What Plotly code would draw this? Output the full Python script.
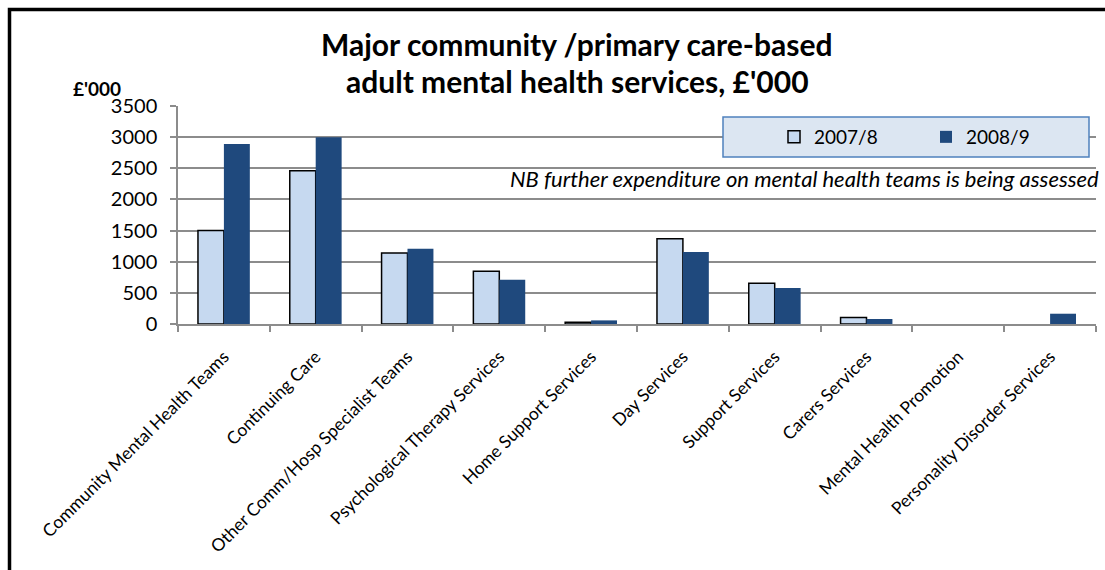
import plotly.graph_objects as go

categories = [
    "Community Mental Health Teams",
    "Continuing Care",
    "Other Comm/Hosp Specialist Teams",
    "Psychological Therapy Services",
    "Home Support Services",
    "Day Services",
    "Support Services",
    "Carers Services",
    "Mental Health Promotion",
    "Personality Disorder Services",
]
spend_2007_8 = [1500, 2460, 1140, 845, 30, 1370, 655, 105, 0, 0]
spend_2008_9 = [2890, 3000, 1210, 710, 58, 1155, 578, 80, 0, 165]
y_ticks = [0, 500, 1000, 1500, 2000, 2500, 3000, 3500]

FONT = "Lato"
LIGHT = "#c6d9f0"
DARK = "#1f497d"
GRID = "#8c8c8c"

# pixel geometry of the plotting area
W, H = 1105, 570
L, R, T, B = 178, 1096, 106, 324


def px(x):
    return (x - L) / (R - L)


def py(y):
    return (B - y) / (B - T)


# empty (zero) bars get no outline
outline_2007_8 = [1.5 if v > 0 else 0 for v in spend_2007_8]

fig = go.Figure()
fig.add_trace(go.Bar(
    x=categories, y=spend_2007_8, name="2007/8",
    marker=dict(color=LIGHT, line=dict(color="black", width=outline_2007_8)),
))
fig.add_trace(go.Bar(
    x=categories, y=spend_2008_9, name="2008/9",
    marker=dict(color=DARK, line=dict(color=DARK, width=0)),
))

fig.update_layout(
    width=W, height=H,
    margin=dict(l=L, r=W - R, t=T, b=H - B, autoexpand=False),
    paper_bgcolor="white", plot_bgcolor="white",
    barmode="group", bargap=0.435, bargroupgap=0,
    font=dict(family=FONT, color="black"),
    showlegend=True,
    legend=dict(
        orientation="h",
        x=px(926), xanchor="center",
        y=py(137), yanchor="middle",
        bgcolor="rgba(0,0,0,0)", borderwidth=0,
        font=dict(family=FONT, size=19),
        entrywidth=107,
        traceorder="normal",
    ),
    xaxis=dict(
        type="category", range=[-0.5, 9.5],
        showline=True, linecolor=GRID, linewidth=1.5,
        ticks="outside", tickson="boundaries", ticklen=6, tickcolor=GRID, tickwidth=1.5,
        tickangle=-45, tickfont=dict(family=FONT, size=17.5),
        ticklabelstandoff=14,
        showgrid=False,
    ),
    yaxis=dict(
        range=[0, 3500], tickvals=y_ticks,
        showline=True, linecolor=GRID, linewidth=1.5,
        ticks="outside", ticklen=6, tickcolor=GRID, tickwidth=1.5,
        showgrid=True, gridcolor=GRID, gridwidth=1.5,
        zeroline=False,
        tickfont=dict(family=FONT, size=20),
        ticklabelstandoff=9,
    ),
    shapes=[
        # legend box
        dict(type="rect", xref="paper", yref="paper",
             x0=px(723), x1=px(1089), y0=py(157), y1=py(117),
             fillcolor="#dce6f2", line=dict(color="#4f81bd", width=1.5),
             layer="above"),
        # outer chart frame
        dict(type="rect", xref="paper", yref="paper",
             x0=px(9.5), x1=px(1120), y0=py(585), y1=py(9.5),
             fillcolor="rgba(0,0,0,0)", line=dict(color="black", width=3.5),
             layer="above"),
    ],
    annotations=[
        dict(text="<b>Major community /primary care-based</b>", xref="paper", yref="paper",
             x=px(577), y=py(44), xanchor="center", yanchor="middle",
             showarrow=False, font=dict(family=FONT, size=30)),
        dict(text="<b>adult mental health services, £'000</b>", xref="paper", yref="paper",
             x=px(577), y=py(81), xanchor="center", yanchor="middle",
             showarrow=False, font=dict(family=FONT, size=30)),
        dict(text="<b>£'000</b>", xref="paper", yref="paper",
             x=px(97), y=py(88), xanchor="center", yanchor="middle",
             showarrow=False, font=dict(family=FONT, size=19)),
        dict(text="<i>NB further expenditure on mental health teams is being assessed</i>",
             xref="paper", yref="paper",
             x=px(1101), y=py(178), xanchor="right", yanchor="middle",
             showarrow=False, font=dict(family=FONT, size=22)),
    ],
)

fig.write_html("out.html")
